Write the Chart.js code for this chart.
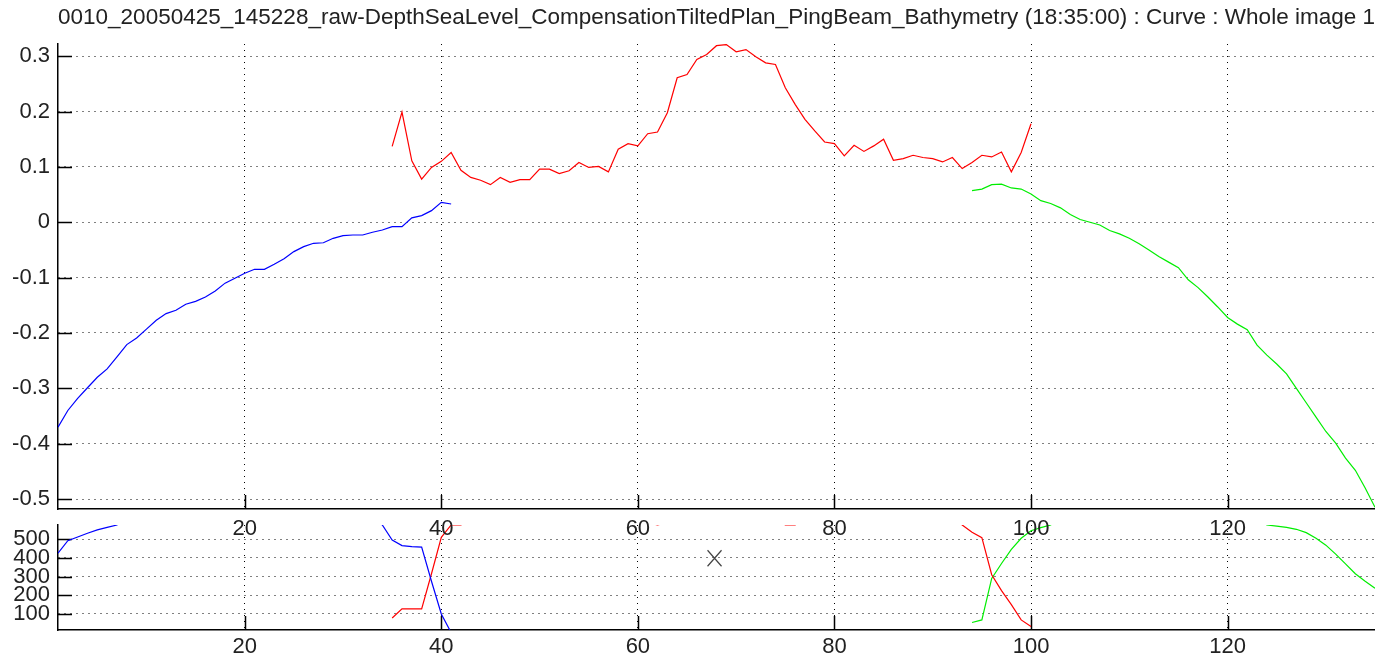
<!DOCTYPE html>
<html>
<head>
<meta charset="utf-8">
<script src="https://cdn.jsdelivr.net/npm/chart.js@4.4.1/dist/chart.umd.min.js"></script>
<style>
  body { margin: 0; background: #fff; overflow: hidden; }
  #wrap { position: relative; width: 1375px; height: 659px; }
  #bottomBox { position: absolute; left: 0; top: 510px; width: 1375px; height: 149px; }
  #topBox { position: absolute; left: 0; top: 0; width: 1375px; height: 545px; }
</style>
</head>
<body>
<div id="wrap">
  <div id="bottomBox"><canvas id="countChart"></canvas></div>
  <div id="topBox"><canvas id="depthChart"></canvas></div>
</div>
<script>
const titleText = "0010_20050425_145228_raw-DepthSeaLevel_CompensationTiltedPlan_PingBeam_Bathymetry (18:35:00) : Curve : Whole image 1";

// beam numbers for each curve
const beamsBlue = [1, 2, 3, 4, 5, 6, 7, 8, 9, 10, 11, 12, 13, 14, 15, 16, 17, 18, 19, 20,
  21, 22, 23, 24, 25, 26, 27, 28, 29, 30, 31, 32, 33, 34, 35, 36, 37, 38, 39, 40, 41];
const beamsRed = [35, 36, 37, 38, 39, 40, 41, 42, 43, 44, 45, 46, 47, 48, 49, 50, 51, 52, 53, 54,
  55, 56, 57, 58, 59, 60, 61, 62, 63, 64, 65, 66, 67, 68, 69, 70, 71, 72, 73, 74,
  75, 76, 77, 78, 79, 80, 81, 82, 83, 84, 85, 86, 87, 88, 89, 90, 91, 92, 93, 94,
  95, 96, 97, 98, 99, 100];
const beamsGreen = [94, 95, 96, 97, 98, 99, 100, 101, 102, 103, 104, 105, 106, 107, 108, 109, 110, 111, 112, 113,
  114, 115, 116, 117, 118, 119, 120, 121, 122, 123, 124, 125, 126, 127, 128, 129, 130, 131, 132, 133,
  134, 135];

// upper panel: depth curves
const depthBlue = [-0.370, -0.340, -0.318, -0.299, -0.280, -0.265, -0.243, -0.221, -0.209, -0.193,
  -0.177, -0.165, -0.159, -0.148, -0.143, -0.135, -0.124, -0.110, -0.101, -0.092,
  -0.085, -0.085, -0.076, -0.066, -0.053, -0.044, -0.038, -0.037, -0.029, -0.024,
  -0.023, -0.023, -0.018, -0.014, -0.008, -0.008, 0.008, 0.012, 0.021, 0.036, 0.033];
const depthRed = [0.137, 0.199, 0.111, 0.078, 0.099, 0.110, 0.126, 0.094, 0.081, 0.076,
  0.068, 0.081, 0.072, 0.077, 0.077, 0.096, 0.096, 0.088, 0.093, 0.108,
  0.099, 0.101, 0.091, 0.132, 0.142, 0.138, 0.160, 0.163, 0.198, 0.261,
  0.267, 0.294, 0.303, 0.319, 0.321, 0.308, 0.312, 0.299, 0.288, 0.285,
  0.243, 0.213, 0.186, 0.165, 0.145, 0.142, 0.120, 0.139, 0.128, 0.138,
  0.150, 0.112, 0.115, 0.121, 0.117, 0.115, 0.109, 0.117, 0.097, 0.108,
  0.121, 0.118, 0.127, 0.091, 0.126, 0.178];
const depthGreen = [0.057, 0.060, 0.068, 0.069, 0.062, 0.060, 0.051, 0.039, 0.034, 0.026,
  0.014, 0.005, 0.000, -0.005, -0.015, -0.021, -0.029, -0.039, -0.050, -0.062,
  -0.072, -0.082, -0.104, -0.118, -0.135, -0.153, -0.172, -0.184, -0.194, -0.222,
  -0.240, -0.256, -0.274, -0.300, -0.326, -0.352, -0.378, -0.399, -0.426, -0.448,
  -0.480, -0.515];

// lower panel: values above the axis top (576) are off scale
const countBlue = [425, 492, 512, 532, 550, 563, 576, 620, 620, 620,
  620, 620, 620, 620, 620, 620, 620, 620, 620, 620,
  620, 620, 620, 620, 620, 620, 620, 620, 620, 620,
  620, 620, 620, 576, 495, 466, 460, 458, 275, 100, 0];
const countRed = [78, 127, 127, 127, 315, 510, 576, 576, 620, 620,
  620, 620, 620, 620, 620, 620, 620, 620, 620, 620,
  620, 620, 620, 620, 620, 620, 590, 576, 590, 620,
  620, 620, 620, 620, 620, 620, 620, 620, 620, 620,
  576, 576, 620, 620, 620, 620, 620, 620, 620, 620,
  620, 620, 620, 620, 620, 620, 620, 620, 576, 537,
  508, 310, 225, 150, 68, 33];
const countGreen = [54, 68, 290, 370, 445, 505, 545, 562, 576, 620,
  620, 620, 620, 620, 620, 620, 620, 620, 620, 620,
  620, 620, 620, 620, 620, 620, 620, 620, 620, 620,
  576, 570, 563, 553, 535, 505, 468, 420, 368, 315,
  275, 237];
const markerX = [67.8];
const markerY = [398];

const fontFamily = "'Liberation Sans', Arial, sans-serif";
const textColor = "#222";

function points(xs, ys) {
  return xs.map((x, i) => ({ x: x, y: ys[i] }));
}

function lineSet(xs, ys, color) {
  return {
    data: points(xs, ys),
    borderColor: color,
    borderWidth: 1.2,
    pointRadius: 0,
    tension: 0,
    fill: false,
  };
}

// tick marks pointing into the plot, like the original
const innerTicks = {
  id: "innerTicks",
  beforeDatasetsDraw(chart) {
    const { ctx, chartArea, scales } = chart;
    ctx.save();
    ctx.strokeStyle = "#000";
    ctx.lineWidth = 1.5;
    ctx.beginPath();
    scales.x.ticks.forEach((t) => {
      const px = Math.round(scales.x.getPixelForValue(t.value)) + 0.5;
      ctx.moveTo(px, chartArea.bottom);
      ctx.lineTo(px, chartArea.bottom - 14);
    });
    scales.y.ticks.forEach((t) => {
      const py = Math.round(scales.y.getPixelForValue(t.value)) + 0.5;
      ctx.moveTo(chartArea.left, py);
      ctx.lineTo(chartArea.left + 14, py);
    });
    ctx.stroke();
    ctx.restore();
  },
};

// the grey "X" cursor mark in the lower panel
const crossMarker = {
  id: "crossMarker",
  afterDatasetsDraw(chart) {
    const { ctx, scales } = chart;
    ctx.save();
    ctx.strokeStyle = "#444";
    ctx.lineWidth = 1.2;
    markerX.forEach((mx, i) => {
      const px = scales.x.getPixelForValue(mx);
      const py = scales.y.getPixelForValue(markerY[i]);
      ctx.beginPath();
      ctx.moveTo(px - 7, py - 8);
      ctx.lineTo(px + 7, py + 8);
      ctx.moveTo(px + 7, py - 8);
      ctx.lineTo(px - 7, py + 8);
      ctx.stroke();
    });
    ctx.restore();
  },
};

function xScale(labelPad, height) {
  return {
    type: "linear",
    min: 1,
    max: 135,
    ticks: {
      stepSize: 20,
      includeBounds: false,
      autoSkip: false,
      maxRotation: 0,
      padding: labelPad,
      color: textColor,
      font: { family: fontFamily, size: 22 },
    },
    grid: { color: "#000", lineWidth: 1, drawTicks: false },
    border: { display: true, color: "#000", width: 1.5, dash: [1, 5] },
    afterFit: (s) => { s.height = height; },
  };
}

function yScale(min, max, step) {
  return {
    min: min,
    max: max,
    ticks: {
      stepSize: step,
      includeBounds: false,
      autoSkip: false,
      padding: 8,
      color: textColor,
      font: { family: fontFamily, size: 22 },
    },
    grid: { color: "#000", lineWidth: 1, drawTicks: false },
    border: { display: true, color: "#000", width: 1.5, dash: [1, 5] },
    afterFit: (s) => {
      s.width = 58;
      s.paddingTop = 0;
      s.paddingBottom = 0;
    },
  };
}

// Depth chart (upper panel)
const depthCtx = document.getElementById("depthChart").getContext("2d");
new Chart(depthCtx, {
  type: "line",
  data: {
    datasets: [
      lineSet(beamsBlue, depthBlue, "#0000ff"),
      lineSet(beamsRed, depthRed, "#ff0000"),
      lineSet(beamsGreen, depthGreen, "#00ee00"),
    ],
  },
  plugins: [innerTicks],
  options: {
    responsive: true,
    maintainAspectRatio: false,
    animation: false,
    devicePixelRatio: 1,
    layout: { padding: 0 },
    plugins: {
      legend: { display: false },
      tooltip: { enabled: false },
      title: {
        display: true,
        text: titleText,
        fullSize: false,
        color: textColor,
        font: { family: fontFamily, size: 22.6, weight: "normal" },
        padding: { top: 4, bottom: 12.9 },
      },
    },
    scales: {
      x: xScale(7, 36),
      y: yScale(-0.518, 0.322, 0.1),
    },
  },
});

// Count chart (lower panel)
const countCtx = document.getElementById("countChart").getContext("2d");
new Chart(countCtx, {
  type: "line",
  data: {
    datasets: [
      lineSet(beamsBlue, countBlue, "#0000ff"),
      lineSet(beamsRed, countRed, "#ff0000"),
      lineSet(beamsGreen, countGreen, "#00ee00"),
    ],
  },
  plugins: [innerTicks, crossMarker],
  options: {
    responsive: true,
    maintainAspectRatio: false,
    animation: false,
    devicePixelRatio: 1,
    layout: { padding: { top: 15 } },
    plugins: {
      legend: { display: false },
      tooltip: { enabled: false },
    },
    scales: {
      x: xScale(4, 29),
      y: yScale(14, 576, 100),
    },
  },
});
</script>
</body>
</html>
